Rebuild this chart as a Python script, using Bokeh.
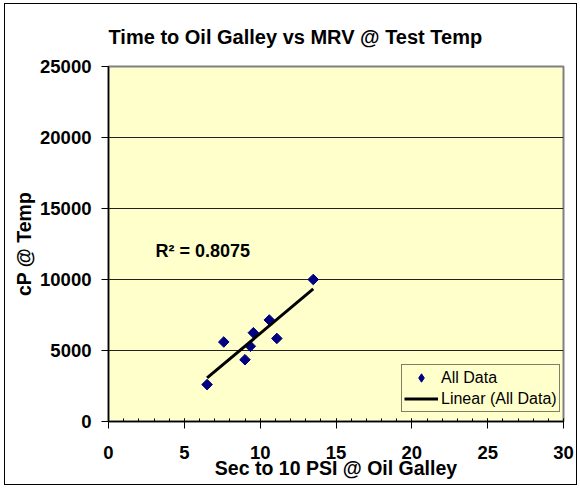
import numpy as np
from bokeh.plotting import figure
from bokeh.models import Range1d, FixedTicker, Label, Legend, LegendItem, Title
from bokeh.embed import file_html
from bokeh.resources import INLINE

# Data
sec_to_10psi = [6.5, 7.6, 9.0, 9.35, 9.55, 10.6, 11.1, 13.5]
cp_at_temp = [2600, 5600, 4350, 5300, 6250, 7150, 5850, 10000]
x_ticks = [0, 5, 10, 15, 20, 25, 30]
y_ticks = [0, 5000, 10000, 15000, 20000, 25000]
r2_text = "R² = 0.8075"
title_text = "Time to Oil Galley vs MRV @ Test Temp"
x_label = "Sec to 10 PSI @ Oil Galley"
y_label = "cP @ Temp"

FONT = "Liberation Sans"

p = figure(
    frame_width=455, frame_height=355,
    min_border_left=103, min_border_right=13, min_border_top=62, min_border_bottom=63,
    x_range=Range1d(0, 30), y_range=Range1d(0, 25000),
    output_backend="svg", toolbar_location=None,
)
p.styles = {"border": "1px solid black", "margin-left": "4px", "margin-top": "3px"}
p.background_fill_color = "#FFFFCC"
p.border_fill_color = "white"
p.outline_line_color = "#808080"
p.outline_line_width = 2

t = Title(text=title_text, align="left", offset=0, standoff=37,
          text_font=FONT, text_font_size="20px", text_font_style="bold", text_color="black")
p.add_layout(t, "above")

# grid
p.xgrid.grid_line_color = None
p.ygrid.ticker = FixedTicker(ticks=y_ticks)
p.ygrid.grid_line_color = "#222222"
p.ygrid.grid_line_width = 1

# axes
p.xaxis.ticker = FixedTicker(ticks=x_ticks, minor_ticks=list(range(0, 31)))
p.yaxis.ticker = FixedTicker(ticks=y_ticks)
for ax in (p.xaxis, p.yaxis):
    ax.axis_line_color = "black"
    ax.axis_line_width = 1.5
    ax.major_tick_line_color = "black"
    ax.major_tick_line_width = 1
    ax.major_label_text_font = FONT
    ax.major_label_text_font_size = "18.5px"
    ax.major_label_text_font_style = "bold"
    ax.major_label_text_color = "black"
    ax.axis_label_text_font = FONT
    ax.axis_label_text_font_size = "19.5px"
    ax.axis_label_text_font_style = "bold"
    ax.axis_label_text_color = "black"

p.xaxis.axis_label = x_label
p.yaxis.axis_label = y_label
p.xaxis.major_tick_in = 3
p.xaxis.major_tick_out = 7
p.xaxis.minor_tick_in = 3
p.xaxis.minor_tick_out = 0
p.xaxis.minor_tick_line_color = "black"
p.xaxis.major_label_standoff = 17
p.xaxis.axis_label_standoff = -5
p.yaxis.major_tick_in = 0
p.yaxis.major_tick_out = 7
p.yaxis.minor_tick_line_color = None
p.yaxis.major_label_standoff = 10
p.yaxis.axis_label_standoff = 2

# trendline (least squares on the data)
xs = np.array(sec_to_10psi)
ys = np.array(cp_at_temp)
slope, intercept = np.polyfit(xs, ys, 1)
tx = [xs.min(), xs.max()]
ty = [slope * tx[0] + intercept, slope * tx[1] + intercept]

# diamond-shaped legend key, drawn small underneath the real markers
pts_key = p.scatter(sec_to_10psi, cp_at_temp, marker="diamond", size=4,
                    fill_color="#000080", line_color="#000080", line_width=1)
pts = p.scatter(sec_to_10psi, cp_at_temp, marker="square", angle=np.pi / 4, size=7.5,
                fill_color="#000080", line_color="#000080")
ln = p.line(tx, ty, line_color="black", line_width=3)

p.add_layout(Label(x=3.1, y=12000, text=r2_text, text_font=FONT, text_font_size="18px",
                   text_font_style="bold", text_baseline="middle", text_align="left",
                   text_color="black"))

legend = Legend(items=[LegendItem(label="All Data", renderers=[pts_key]),
                       LegendItem(label="Linear (All Data)", renderers=[ln])],
                location=(293, 9))
legend.padding = 2
legend.spacing = 0
legend.margin = 0
legend.glyph_width = 34
legend.glyph_height = 21
legend.label_height = 21
legend.label_standoff = 3
legend.label_text_font = FONT
legend.label_text_font_size = "16px"
legend.label_text_color = "black"
legend.border_line_color = "black"
legend.border_line_width = 1
legend.background_fill_color = "#FFFFCC"
legend.background_fill_alpha = 1
p.add_layout(legend, "center")

open("out.html", "w").write(file_html(p, INLINE))
